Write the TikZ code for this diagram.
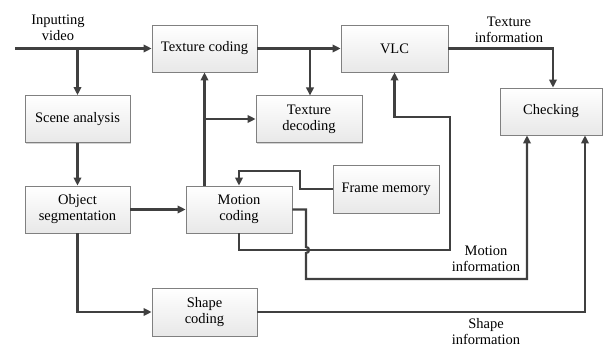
\documentclass[tikz,border=0pt]{standalone}
\usepackage{fontspec}
\setmainfont{Liberation Serif}
\usetikzlibrary{arrows.meta,shadows}
\definecolor{ln}{HTML}{404040}
\definecolor{bd}{HTML}{808080}
\tikzset{
  box/.style={draw=bd, line width=0.8pt, top color=white, bottom color=gray!18,
    minimum width=105pt, minimum height=47pt, align=center, inner sep=2pt,
    drop shadow={shadow xshift=1.2pt, shadow yshift=-1.2pt, opacity=0.35, fill=gray}},
  arr/.style={draw=ln, line width=2.2pt, -{Triangle[length=8pt,width=7.5pt]}},
  lbl/.style={align=center, inner sep=0pt}
}
\begin{document}
\begin{tikzpicture}[x=1pt,y=-1pt, font=\fontsize{14.5}{16}\selectfont]
\useasboundingbox (0,0) rectangle (604,347);
\node[box] (tc) at (204.5,48.5) {Texture coding};
\node[box, minimum width=107pt] (vlc) at (394.5,48.5) {VLC};
\node[box] (sa) at (77.5,119) {Scene analysis};
\node[box, minimum width=106pt] (td) at (309,119) {Texture\\decoding};
\node[box, minimum width=102pt] (ch) at (551,111.5) {Checking};
\node[box, minimum width=106pt, minimum height=48pt] (fm) at (386,189) {Frame memory};
\node[box] (os) at (77.5,209.5) {Object\\segmentation};
\node[box, minimum width=106pt] (mc) at (239,209.5) {Motion\\coding};
\node[box, minimum height=48pt] (sc) at (204.5,312) {Shape\\coding};

\node[lbl] (lin) at (58,28) {Inputting\\video};
\node[lbl] (ltx) at (509,30) {Texture\\information};
\node[lbl] (lmo) at (486,258.5) {Motion\\information};
\node[lbl] (lsh) at (486,331.5) {Shape\\information};

\coordinate (in) at (15,48.5);
\draw[arr] (in) -- (tc.west);
\draw[arr] (sa.north |- in) -- (sa.north);
\draw[arr] (tc.east) -- (vlc.west);
\draw[arr] (310,48.5) -- (310,95.5);
\draw[arr] (sa) -- (os);
\draw[arr] (os) -- (mc);
\draw[arr] (mc.north -| tc.south) -- (tc.south);
\draw[arr] (tc.south |- td.west) -- (td.west);
\coordinate (f1) at (300,171);
\draw[arr] (fm.west) -| (f1) -| (mc.north);
\coordinate (m1) at (450,250);
\coordinate (m2) at (450,117);
\draw[arr] (mc.south) |- (m1) -- (m2) -| (vlc.south);
\coordinate (n0) at (306,209.5);
\coordinate (n1) at (306,279);
\coordinate (c1) at (527,279);
\draw[arr] (mc.east) -- (n0) -- (306,247) .. controls (310,247) and (310,253) .. (306,253) -- (n1) -- (c1) -- (c1 |- ch.south);
\coordinate (s1) at (585,312);
\draw[arr] (os.south) |- (sc.west);
\draw[arr] (sc.east) -- (s1) -- (s1 |- ch.south);
\coordinate (v1) at (553,48.5);
\draw[arr] (vlc.east) -- (v1) -- (v1 |- ch.north);
\end{tikzpicture}
\end{document}
